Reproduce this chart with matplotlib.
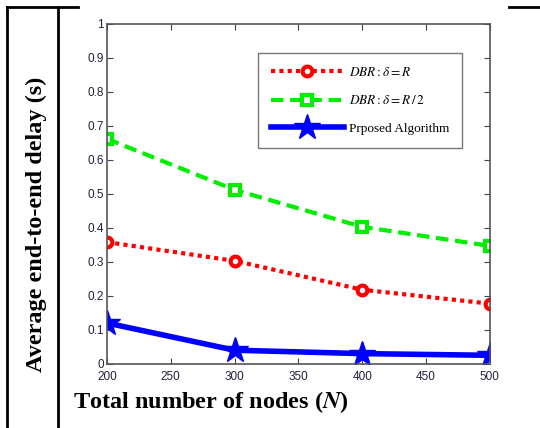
import matplotlib.pyplot as plt
from matplotlib.lines import Line2D

plt.rcParams["mathtext.fontset"] = "stix"

nodes = [200, 300, 400, 500]
dbr_r = [0.358, 0.303, 0.218, 0.177]
dbr_r_half = [0.662, 0.512, 0.403, 0.347]
proposed = [0.120, 0.040, 0.030, 0.025]

x_ticks = [200, 250, 300, 350, 400, 450, 500]
y_ticks = [0, 0.1, 0.2, 0.3, 0.4, 0.5, 0.6, 0.7, 0.8, 0.9, 1]
y_tick_labels = ["0", "0.1", "0.2", "0.3", "0.4", "0.5", "0.6", "0.7", "0.8", "0.9", "1"]

fig = plt.figure(figsize=(5.4, 4.28), dpi=100)
ax = fig.add_axes([0.198, 0.150, 0.709, 0.794])

ax.plot(nodes, dbr_r, color="red", linestyle=(0, (1, 1)), linewidth=3,
        marker="o", markersize=7, markerfacecolor="white",
        markeredgecolor="red", markeredgewidth=3,
        label=r"$DBR : \delta = R$")
ax.plot(nodes, dbr_r_half, color="#00ee00", linestyle=(0, (3, 1.6)), linewidth=3,
        marker="s", markersize=7, markerfacecolor="white",
        markeredgecolor="#00ee00", markeredgewidth=3,
        label=r"$DBR : \delta = R\,/\,2$")
ax.plot(nodes, proposed, color="blue", linestyle="-", linewidth=4,
        marker="*", markersize=19, markerfacecolor="blue",
        markeredgecolor="blue",
        label="Prposed Algorithm")

ax.set_xlim(200, 500)
ax.set_ylim(0, 1)
ax.set_xticks(x_ticks)
ax.set_yticks(y_ticks)
ax.set_yticklabels(y_tick_labels)
ax.tick_params(direction="in", top=True, right=True, length=4,
               labelsize=8.5, labelcolor="#202040", color="#444444")
ax.tick_params(axis="y", pad=2)
ax.tick_params(axis="x", pad=5.5)
for lbl in ax.get_xticklabels() + ax.get_yticklabels():
    lbl.set_family("Liberation Sans")
for sp in ax.spines.values():
    sp.set_color("#555555")
    sp.set_linewidth(1.2)

fig.text(0.135, 0.061, r"Total number of nodes ($\boldsymbol{N}$)", fontsize=17.5,
         fontweight="bold", family="Liberation Serif", va="center")
fig.text(0.068, 0.477, "Average end-to-end delay (s)", fontsize=17.5,
         fontweight="bold", family="Liberation Serif", rotation=90,
         ha="center", va="center")

leg = ax.legend(loc="upper left", bbox_to_anchor=(0.394, 0.915), borderaxespad=0,
                frameon=True, fancybox=False, edgecolor="#555555", borderpad=1.0,
                labelspacing=1.15, handlelength=5.5, handletextpad=0.4,
                prop={"family": "Liberation Serif", "size": 9.5})
leg.get_frame().set_linewidth(1.0)

# table borders around the figure
fig.add_artist(Line2D([7 / 540, 7 / 540], [0, 1 - 7 / 428], color="black", lw=2,
                      transform=fig.transFigure))
fig.add_artist(Line2D([58 / 540, 58 / 540], [0, 1 - 7 / 428], color="black", lw=2,
                      transform=fig.transFigure))
fig.add_artist(Line2D([7 / 540, 78 / 540], [1 - 7 / 428, 1 - 7 / 428], color="black",
                      lw=2, transform=fig.transFigure))
fig.add_artist(Line2D([509 / 540, 1], [1 - 7 / 428, 1 - 7 / 428], color="black",
                      lw=2, transform=fig.transFigure))

fig.savefig("out.png", dpi=100)
